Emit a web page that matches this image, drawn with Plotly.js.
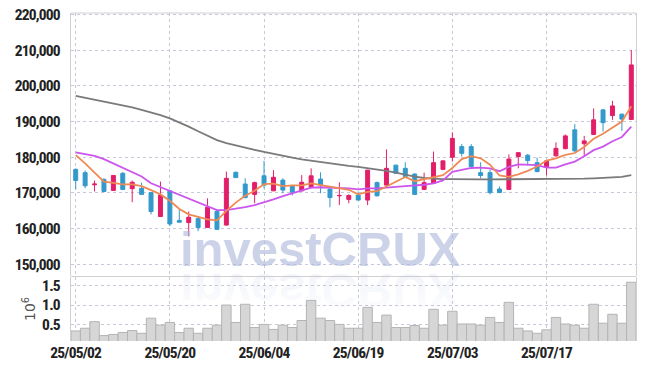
<!DOCTYPE html>
<html>
<head>
<meta charset="utf-8">
<script src="https://cdn.plot.ly/plotly-3.0.1.min.js"></script>
<style>
html,body{margin:0;padding:0;background:#fff;}
#chart{width:645px;height:370px;}
#chart .xtick text, #chart .ytick text, #chart .y2tick text {letter-spacing:-0.8px;}
</style>
</head>
<body>
<div id="chart"></div>
<script>
// ---- data ----
const dates = ['25/05/02','25/05/07','25/05/08','25/05/09','25/05/12','25/05/13','25/05/14','25/05/15','25/05/16','25/05/19',
'25/05/20','25/05/21','25/05/22','25/05/23','25/05/26','25/05/27','25/05/28','25/05/29','25/05/30','25/06/02',
'25/06/04','25/06/05','25/06/09','25/06/10','25/06/11','25/06/12','25/06/13','25/06/16','25/06/17','25/06/18',
'25/06/19','25/06/20','25/06/23','25/06/24','25/06/25','25/06/26','25/06/27','25/06/30','25/07/01','25/07/02',
'25/07/03','25/07/04','25/07/07','25/07/08','25/07/09','25/07/10','25/07/11','25/07/14','25/07/15','25/07/16',
'25/07/17','25/07/18','25/07/21','25/07/22','25/07/23','25/07/24','25/07/25','25/07/28','25/07/29','25/07/30'];

const openP = [176600,175700,172300,173800,170700,175500,171200,171300,170100,163400,
170600,162300,161700,162800,160300,164800,161000,175800,172500,169600,
174800,170600,173600,172000,170600,171600,173900,171100,169200,168200,
169400,168000,172900,172200,177800,176900,175300,171000,172700,176600,
180000,183000,183000,175700,175700,171100,171000,180200,180600,178500,
177400,180400,182400,187700,183800,186400,193300,191700,192100,190600];

const highP = [176900,176300,173500,174100,175000,175900,173500,172900,170100,173200,
170600,165400,164800,163400,168500,165200,176000,176000,174100,173200,
179000,176400,174100,172300,175000,176900,175800,171100,173000,169600,
170400,176500,173200,182200,177900,178600,175500,175700,181600,179100,
187000,183700,183700,178600,176600,171800,180800,181400,180900,179900,
179100,184200,186400,189300,186000,193700,193400,195800,192200,210100];

const lowP = [171000,171300,170400,170200,170600,170800,167400,169600,164000,163300,
160700,161700,157800,159300,160200,159600,160800,174200,168500,167100,
171300,170500,169900,169300,170400,171300,169900,166000,166600,167100,
168000,166600,169000,172000,175400,174300,169500,170900,172500,176400,
178800,180200,177300,174100,169600,170000,170900,176900,177700,175800,
174900,180200,182300,181300,180200,186300,187200,190500,187400,190500];

const closeP = [173500,172000,172500,170400,174900,171000,173000,169600,164800,169400,
161300,161800,163200,160300,166000,159800,174100,174300,168700,172900,
172200,174400,170800,170200,173000,174800,172200,168700,169300,169300,
168000,176400,169200,176900,175500,174600,169600,172900,178500,179000,
185300,181100,177400,174900,170100,170100,179500,181300,179100,176000,
179000,182500,186000,181800,184600,190500,189700,194400,190700,205900];

const maShort = [180600,178300,175700,173200,172800,172400,172400,171900,170800,169600,
167800,165500,164000,163200,162600,162300,165000,167300,169200,170600,
172500,172600,171900,172100,172100,172700,172300,171800,171500,170900,
169600,170300,170500,171900,173200,174500,173300,173900,174300,175000,
177000,179500,180300,179700,177900,174900,174500,175200,176200,177400,
179100,179700,180700,181200,182900,185200,186600,188200,190000,194300];

const maMid = [181400,180900,180400,179500,178300,176900,175700,174600,172700,171600,
170600,169400,168500,167300,166300,165200,165200,165500,166000,166600,
167300,168200,169100,169900,170800,171500,171600,171500,171500,171300,
171000,171300,171300,171600,171700,171900,172000,172300,172700,173500,
175900,176400,177000,177100,176900,176100,177300,178000,178000,177800,
177100,177100,178000,178800,180300,182000,183000,184500,185700,188600];

const maLong = [197200,196700,196200,195600,195100,194600,194000,193300,192600,191800,
190900,189800,188600,187300,186000,184800,184000,183300,182700,182100,
181500,180900,180400,179900,179400,179000,178600,178300,178000,177600,
177300,177000,176600,176200,175700,175100,174600,174200,174000,173900,
173900,173800,173800,173800,173800,173800,173800,173800,173800,173800,
173800,173900,173900,174000,174000,174100,174200,174300,174500,175000];

const volume = [0.33,0.40,0.57,0.21,0.24,0.29,0.34,0.27,0.66,0.48,
0.55,0.29,0.40,0.27,0.40,0.48,1.00,0.55,1.02,0.42,
0.50,0.37,0.48,0.42,0.60,1.12,0.66,0.60,0.50,0.40,
0.40,0.94,0.55,0.74,0.42,0.42,0.47,0.40,0.89,0.48,
0.84,0.51,0.51,0.48,0.68,0.55,1.07,0.40,0.33,0.27,
0.36,0.68,0.51,0.48,0.40,1.02,0.53,0.76,0.53,1.59];

const dateTicks = ['25/05/02','25/05/20','25/06/04','25/06/19','25/07/03','25/07/17'];
const priceTicks = [150000,160000,170000,180000,190000,200000,210000,220000];
const volTicks = [0.5,1.0,1.5];
const watermark = 'investCRUX';

// ---- styling ----
const RED = '#e31e69', BLUE = '#3399cc';
const GRID = '#c8c8d8', FRAME = '#d0d0d0';
const tickFont = {family:'"Roboto Condensed","DejaVu Sans Condensed",sans-serif', size:15.5, weight:700, color:'#222'};

const traces = [
  {type:'candlestick', x:dates, open:openP, high:highP, low:lowP, close:closeP,
   xaxis:'x', yaxis:'y', whiskerwidth:0,
   increasing:{line:{color:RED, width:1}, fillcolor:RED},
   decreasing:{line:{color:BLUE, width:1}, fillcolor:BLUE},
   hoverinfo:'skip'},
  {type:'scatter', mode:'lines', x:dates, y:maLong, line:{color:'#7a7a7a', width:1.8}, xaxis:'x', yaxis:'y', hoverinfo:'skip'},
  {type:'scatter', mode:'lines', x:dates, y:maMid, line:{color:'#cc55ee', width:1.8}, xaxis:'x', yaxis:'y', hoverinfo:'skip'},
  {type:'scatter', mode:'lines', x:dates, y:maShort, line:{color:'#ef8a55', width:1.8}, xaxis:'x', yaxis:'y', hoverinfo:'skip'},
  {type:'bar', x:dates, y:volume, xaxis:'x', yaxis:'y2',
   marker:{color:'#d6d6d6', line:{color:'#b4b4b4', width:1}}, hoverinfo:'skip'}
];

const PT = 13, PB = 341, PH = PB - PT;
const py = v => (PB - v) / PH; // pixel row -> paper fraction

const layout = {
  width:645, height:370,
  margin:{l:71, r:9, t:13, b:29, pad:0},
  paper_bgcolor:'#ffffff', plot_bgcolor:'#ffffff',
  showlegend:false, bargap:0, boxgap:0.4,
  xaxis:{type:'category', categoryorder:'array', categoryarray:dates, range:[-0.5, dates.length-0.5],
         anchor:'y2', tickmode:'array', tickvals:dateTicks, ticktext:dateTicks,
         showgrid:true, gridcolor:GRID, griddash:'dot', gridwidth:1,
         ticks:'', showline:false, zeroline:false, tickfont:tickFont,
         rangeslider:{visible:false}, fixedrange:true},
  yaxis:{domain:[py(276),1], range:[146720,220450], tickmode:'array', tickvals:priceTicks,
         tickformat:',d', showgrid:true, gridcolor:GRID, griddash:'dot', gridwidth:1,
         showline:true, mirror:true, linecolor:FRAME, linewidth:1, zeroline:false,
         ticks:'', ticklabelstandoff:7, tickfont:tickFont, fixedrange:true},
  yaxis2:{domain:[0, py(277)], range:[0.07,1.725], tickmode:'array', tickvals:volTicks,
          tickformat:'.1f', showgrid:true, gridcolor:GRID, griddash:'dot', gridwidth:1,
          showline:true, mirror:true, linecolor:FRAME, linewidth:1, zeroline:false,
          ticks:'', ticklabelstandoff:7, tickfont:tickFont,
          title:{text:'10<sup>6</sup>', font:{family:'"DejaVu Sans",sans-serif', size:14, color:'#555'}, standoff:0},
          fixedrange:true},
  shapes:[
    {type:'line', xref:'paper', yref:'paper', x0:0, x1:1, y0:1, y1:1, line:{color:FRAME, width:1}},
    {type:'line', xref:'paper', yref:'paper', x0:0, x1:1, y0:py(276.5), y1:py(276.5), line:{color:FRAME, width:1}}
  ],
  annotations:[
    {text:watermark, xref:'paper', yref:'paper', x:(320-71)/565, y:py(249.5), xanchor:'center', yanchor:'middle',
     showarrow:false, font:{family:'"Liberation Sans",Arial,sans-serif', size:49, weight:700, color:'rgba(172,184,218,0.62)'}},
    {text:watermark, xref:'paper', yref:'paper', x:(320-71)/565, y:py(291), xanchor:'center', yanchor:'middle',
     showarrow:false, font:{family:'"Liberation Sans",Arial,sans-serif', size:49, weight:700, color:'rgba(172,184,218,0.3)'}}
  ]
};

Plotly.newPlot('chart', traces, layout, {staticPlot:true, displayModeBar:false}).then(gd => {
  // mirror the second watermark to form a reflection, fading away from the baseline
  const svg = gd.querySelector('svg.main-svg');
  const NS = 'http://www.w3.org/2000/svg';
  let defs = svg.querySelector('defs');
  if (!defs) { defs = document.createElementNS(NS,'defs'); svg.insertBefore(defs, svg.firstChild); }
  const grad = document.createElementNS(NS,'linearGradient');
  grad.setAttribute('id','wmReflect');
  grad.setAttribute('x1','0'); grad.setAttribute('y1','0');
  grad.setAttribute('x2','0'); grad.setAttribute('y2','1');
  [['0.15','0.12'],['0.85','0.5']].forEach(([o,a]) => {
    const s = document.createElementNS(NS,'stop');
    s.setAttribute('offset',o); s.setAttribute('stop-color','rgb(172,184,218)'); s.setAttribute('stop-opacity',a);
    grad.appendChild(s);
  });
  defs.appendChild(grad);
  const texts = gd.querySelectorAll('.annotation-text');
  if (texts.length > 1) {
    const t = texts[1];
    t.style.transformBox = 'fill-box';
    t.style.transformOrigin = 'center';
    t.style.transform = 'scaleY(-1)';
    t.style.fill = 'url(#wmReflect)';
  }
});
</script>
</body>
</html>
